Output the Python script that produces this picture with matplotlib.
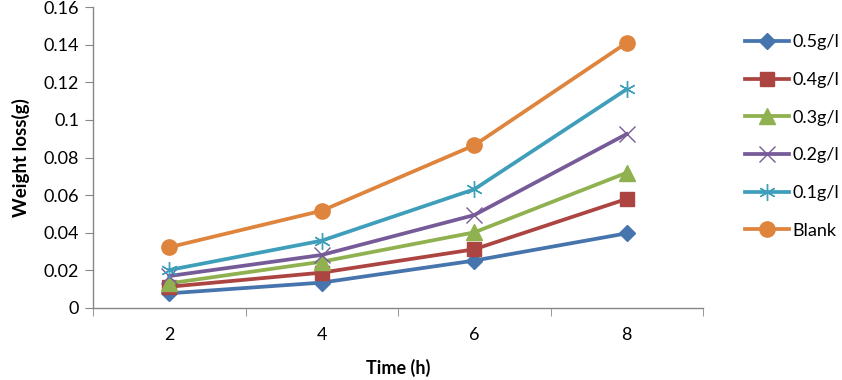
import matplotlib
matplotlib.use("Agg")
import matplotlib.pyplot as plt

plt.rcParams["font.family"] = ["Lato", "DejaVu Sans"]

# data
times = ["2", "4", "6", "8"]
labels = ["0.5g/l", "0.4g/l", "0.3g/l", "0.2g/l", "0.1g/l", "Blank"]
c05 = [0.0078, 0.0135, 0.0252, 0.0397]
c04 = [0.0113, 0.0188, 0.0312, 0.0580]
c03 = [0.0131, 0.0246, 0.0402, 0.0719]
c02 = [0.0170, 0.0282, 0.0494, 0.0925]
c01 = [0.0202, 0.0358, 0.0631, 0.1163]
blank = [0.0323, 0.0517, 0.0865, 0.1410]

series = [c05, c04, c03, c02, c01, blank]
colors = ["#4674AD", "#AC4442", "#8FB14F", "#775B99", "#3F9FBB", "#DE843D"]
markers = ["D", "s", "^", "x", (6, 2, 0), "o"]
msizes = [8.5, 10.5, 11, 11, 12, 11]

fig = plt.figure(figsize=(8.42, 3.8), dpi=100)
ax = fig.add_axes([93 / 842, 1 - 308 / 380, (703 - 93) / 842, (308 - 7) / 380])

x = list(range(len(times)))
for vals, lab, col, mk, ms in zip(series, labels, colors, markers, msizes):
    ax.plot(x, vals, color=col, lw=2.7, marker=mk, ms=ms,
            mec=col, mfc=col, mew=1.0, label=lab)

ax.set_xlim(-0.5, len(times) - 0.5)
ax.set_ylim(0, 0.16)
ax.set_yticks([0, 0.02, 0.04, 0.06, 0.08, 0.1, 0.12, 0.14, 0.16])
ax.set_yticklabels(["0", "0.02", "0.04", "0.06", "0.08", "0.1", "0.12", "0.14", "0.16"])
ax.set_xticks(x)
ax.set_xticklabels(times)
ax.set_xticks([i - 0.5 for i in range(len(times) + 1)], minor=True)
ax.tick_params(axis="x", which="major", length=0, pad=14, labelsize=13)
ax.tick_params(axis="x", which="minor", length=6, color="#868686", direction="out")
ax.tick_params(axis="y", length=6, color="#868686", direction="out", labelsize=13, pad=4)

for s in ["top", "right"]:
    ax.spines[s].set_visible(False)
for s in ["left", "bottom"]:
    ax.spines[s].set_color("#868686")
    ax.spines[s].set_linewidth(1.0)

ax.set_xlabel("Time (h)", fontsize=13, fontweight="bold", labelpad=11)
ax.set_ylabel("Weight loss(g)", fontsize=13.5, fontweight="bold", labelpad=10)

fig.legend(loc="upper left", bbox_to_anchor=(738 / 842, 1 - 27 / 380),
           frameon=False, fontsize=13, handlelength=2.4, handletextpad=0.2,
           labelspacing=1.2, borderaxespad=0)

plt.savefig("out.png")
